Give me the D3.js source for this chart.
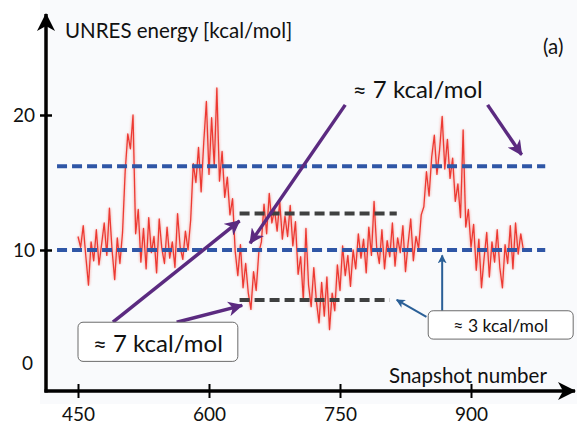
<!DOCTYPE html>
<html>
<head>
<meta charset="utf-8">
<script src="https://cdn.jsdelivr.net/npm/d3@7/dist/d3.min.js"></script>
<style>
  body { margin: 0; background: #ffffff; }
  svg { display: block; }
  text { font-family: Lato, "Open Sans", "DejaVu Sans", sans-serif; fill: #111; }
</style>
</head>
<body>
<svg id="chart" width="577" height="426"></svg>
<script>
// UNRES energy along the trajectory, one value every 3 snapshots from snapshot 450
const snapshotStart = 450;
const snapshotStep = 3;
const energy = [
  11.0, 10.2, 11.8, 9.5, 7.4, 10.6, 9.2, 11.5, 8.9, 10.4,
  12.0, 9.6, 13.1, 10.0, 7.8, 10.9, 9.0, 11.3, 15.8, 18.6,
  17.5, 20.0, 11.2, 13.0, 9.1, 11.6, 8.6, 12.4, 9.8, 11.0,
  8.3, 12.3, 10.1, 9.0, 11.7, 9.4, 10.6, 8.7, 12.7, 10.2,
  9.3, 11.4, 10.0, 12.2, 16.4, 15.0, 17.6, 14.3, 18.0, 21.0,
  15.6, 19.8, 16.2, 22.0, 15.1, 17.3, 13.9, 15.4, 12.6, 13.8,
  9.9, 8.1, 10.4, 7.2, 9.0, 6.8, 5.6, 8.4, 7.0, 9.8,
  10.6, 13.4, 11.2, 14.2, 12.0, 13.0, 11.4, 13.6, 10.8, 12.5,
  11.0, 13.3, 10.3, 12.1, 8.2, 9.5, 6.3, 11.6, 7.4, 5.8,
  8.7, 6.2, 4.6, 7.6, 5.1, 8.0, 4.1, 6.8, 5.5, 8.9,
  7.0, 10.3, 8.1, 9.6, 7.3, 10.0, 8.6, 11.2, 9.4, 10.8,
  8.3, 11.7, 9.6, 13.6, 10.2, 9.0, 11.5, 8.6, 10.7, 9.5,
  12.0, 8.8, 10.9, 9.8, 11.8, 8.4, 10.5, 12.3, 9.2, 11.0,
  10.1, 12.6, 13.2, 15.8, 14.0, 16.9, 18.5, 15.6, 17.4, 19.9,
  16.0, 18.2, 15.3, 16.8, 13.6, 14.9, 12.4, 18.9, 11.7, 13.0,
  10.2, 11.9, 8.5, 10.8, 7.2, 9.4, 11.3, 8.0, 10.6, 9.1,
  11.5, 8.7, 7.2, 10.4, 9.0, 11.8, 8.6, 12.0, 9.7, 11.2,
  10.0
];

const xTicks = [450, 600, 750, 900];
const yTicks = [0, 10, 20];

// Reference levels (blue) and the two basin levels (dark grey)
const refLevels = [10, 16.2];
const refSpan = [426, 985];
const basinLevels = [12.7, 6.3];
const basinEnds = [815, 807];
const basinStart = 635;

// Annotation arrows, in (snapshot, energy) units
const purpleArrows = [
  { from: [490, 4.65], to: [635, 12.15] },
  { from: [563, 4.65], to: [638, 5.9] },
  { from: [756, 20.75], to: [647, 10.5] },
  { from: [919, 20.75], to: [958, 17.05] }
];
const blueArrows = [
  { from: [867, 5.45], to: [867, 9.6] },
  { from: [849, 5.05], to: [815, 6.3] }
];

const svg = d3.select("#chart");
const W = 577, H = 426;

const x = d3.scaleLinear().domain([450, 900]).range([78, 471]);
const y = d3.scaleLinear().domain([10, 20]).range([250, 115]);
const axisLeftX = 46;
const axisBottomY = 391;

svg.append("rect").attr("width", W).attr("height", H).attr("fill", "#ffffff");
svg.append("rect").attr("x", 40).attr("y", 0).attr("width", W - 40).attr("height", 404)
  .attr("fill", "#f9fafc");

const defs = svg.append("defs");
defs.append("filter").attr("id", "soft")
  .append("feGaussianBlur").attr("stdDeviation", 0.45);
defs.append("filter").attr("id", "softer")
  .append("feGaussianBlur").attr("stdDeviation", 1.1);

function arrowMarker(id, color, len, half) {
  defs.append("marker")
    .attr("id", id)
    .attr("markerUnits", "userSpaceOnUse")
    .attr("viewBox", `0 ${-half} ${len} ${2 * half}`)
    .attr("refX", len - 1).attr("refY", 0)
    .attr("markerWidth", len).attr("markerHeight", 2 * half)
    .attr("orient", "auto")
    .append("path")
    .attr("d", `M0,${-half} L${len},0 L0,${half} L${len * 0.28},0 Z`)
    .attr("fill", color);
}
arrowMarker("headPurple", "#5b2a80", 15, 7.5);
arrowMarker("headBlue", "#2a5f97", 9, 4.5);
arrowMarker("headAxis", "#000000", 18, 9);

// Energy trace
const line = d3.line()
  .x((d, i) => x(snapshotStart + i * snapshotStep))
  .y(d => y(d));

svg.append("path").datum(energy)
  .attr("d", line).attr("fill", "none")
  .attr("stroke", "#f26a5e").attr("stroke-width", 3).attr("opacity", 0.35)
  .attr("filter", "url(#softer)");
svg.append("path").datum(energy)
  .attr("d", line).attr("fill", "none")
  .attr("stroke", "#ec2a22").attr("stroke-width", 1.3).attr("opacity", 0.9)
  .attr("stroke-linejoin", "round")
  .attr("filter", "url(#soft)");

// Dashed levels
svg.selectAll("line.ref").data(refLevels).join("line")
  .attr("class", "ref")
  .attr("x1", x(refSpan[0])).attr("x2", x(refSpan[1]))
  .attr("y1", d => y(d)).attr("y2", d => y(d))
  .attr("stroke", "#2f56a6").attr("stroke-width", 4)
  .attr("stroke-dasharray", "10,5");

svg.selectAll("line.basin").data(basinLevels).join("line")
  .attr("class", "basin")
  .attr("x1", x(basinStart)).attr("x2", (d, i) => x(basinEnds[i]))
  .attr("y1", d => y(d)).attr("y2", d => y(d))
  .attr("stroke", "#3f4040").attr("stroke-width", 4)
  .attr("stroke-dasharray", "10,5");

// Axes
const gx = svg.append("g").attr("transform", `translate(0,${axisBottomY})`)
  .call(d3.axisBottom(x).tickValues(xTicks).tickFormat(d3.format("d")).tickSize(0));
gx.select(".domain").remove();
gx.selectAll(".tick line").attr("y1", -7).attr("y2", 7)
  .attr("stroke", "#000").attr("stroke-width", 2);
gx.selectAll(".tick text").attr("y", 30).attr("dy", null).attr("font-size", 19)
  .attr("font-family", "Lato, 'Open Sans', sans-serif").attr("fill", "#111");

const gy = svg.append("g").attr("transform", `translate(${axisLeftX},0)`)
  .call(d3.axisLeft(y).tickValues(yTicks).tickFormat(d3.format("d")).tickSize(0));
gy.select(".domain").remove();
gy.selectAll(".tick line").attr("x1", -6).attr("x2", 6)
  .attr("stroke", "#000").attr("stroke-width", 2.5);
gy.selectAll(".tick text").attr("x", -11).attr("font-size", 19)
  .attr("font-family", "Lato, 'Open Sans', sans-serif").attr("fill", "#111");
gy.selectAll(".tick").filter(d => d === 0)
  .each(function () {
    d3.select(this).select("line").remove();
    d3.select(this).select("text").attr("y", -22).attr("x", -13);
  });

svg.append("line")
  .attr("x1", axisLeftX).attr("x2", axisLeftX)
  .attr("y1", axisBottomY + 1.5).attr("y2", 14)
  .attr("stroke", "#000").attr("stroke-width", 3.5)
  .attr("marker-end", "url(#headAxis)");
svg.append("line")
  .attr("x1", axisLeftX - 1.5).attr("x2", 575)
  .attr("y1", axisBottomY).attr("y2", axisBottomY)
  .attr("stroke", "#000").attr("stroke-width", 3.5)
  .attr("marker-end", "url(#headAxis)");

// Axis titles and panel tag
svg.append("text").attr("x", 65).attr("y", 38).attr("font-size", 20.5)
  .text("UNRES energy [kcal/mol]");
svg.append("text").attr("x", 389).attr("y", 383).attr("font-size", 20.5)
  .text("Snapshot number");
svg.append("text").attr("x", 543).attr("y", 54).attr("font-size", 20.5)
  .text("(a)");

// Arrows
svg.selectAll("line.purple").data(purpleArrows).join("line")
  .attr("class", "purple")
  .attr("x1", d => x(d.from[0])).attr("y1", d => y(d.from[1]))
  .attr("x2", d => x(d.to[0])).attr("y2", d => y(d.to[1]))
  .attr("stroke", "#5b2a80").attr("stroke-width", 3.5)
  .attr("marker-end", "url(#headPurple)");

svg.selectAll("line.blue").data(blueArrows).join("line")
  .attr("class", "blue")
  .attr("x1", d => x(d.from[0])).attr("y1", d => y(d.from[1]))
  .attr("x2", d => x(d.to[0])).attr("y2", d => y(d.to[1]))
  .attr("stroke", "#2a5f97").attr("stroke-width", 2)
  .attr("marker-end", "url(#headBlue)");

// Labels
svg.append("text").attr("x", x(839)).attr("y", y(21.95))
  .attr("text-anchor", "middle").attr("dominant-baseline", "central")
  .attr("font-size", 24).text("≈ 7 kcal/mol");

function boxedLabel(s0, s1, e0, e1, txt, size) {
  const bx = x(s0), by = y(e1), bw = x(s1) - x(s0), bh = y(e0) - y(e1);
  svg.append("rect").attr("x", bx).attr("y", by).attr("width", bw).attr("height", bh)
    .attr("rx", 5).attr("fill", "#ffffff").attr("stroke", "#6b6b6b").attr("stroke-width", 1);
  svg.append("text").attr("x", bx + bw / 2).attr("y", by + bh / 2 + 1)
    .attr("text-anchor", "middle").attr("dominant-baseline", "central")
    .attr("font-size", size).text(txt);
}
boxedLabel(450, 633, 1.75, 4.65, "≈ 7 kcal/mol", 24);
boxedLabel(851, 1017, 3.4, 5.5, "≈ 3 kcal/mol", 17.5);
</script>
</body>
</html>
